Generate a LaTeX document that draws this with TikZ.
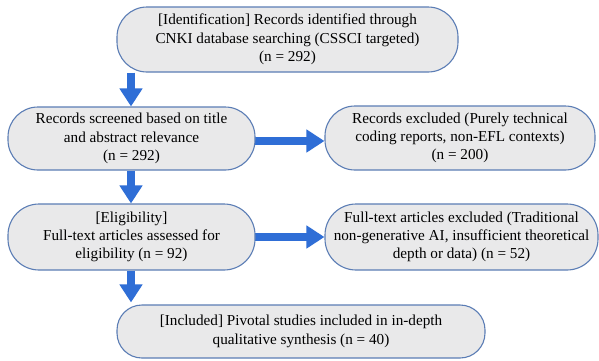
\documentclass[tikz,border=0pt]{standalone}
\usepackage{fontspec}
\setmainfont{Liberation Serif}
\usetikzlibrary{arrows.meta}
\pgfdeclarelayer{bgfill}
\pgfdeclarelayer{bg}
\pgfsetlayers{bgfill,bg,main}
\definecolor{boxfill}{HTML}{E9E9EA}
\definecolor{boxline}{HTML}{5B7DB5}
\definecolor{arrowblue}{HTML}{2F6ED6}
\tikzset{
  pill/.style={draw=boxline, line width=1.1pt, fill=boxfill, align=center,
    inner sep=0pt, font=\fontsize{15.2}{18.3}\selectfont},
  bigarrow/.style={draw=arrowblue, line width=8.5pt,
    -{Triangle[length=18pt,width=22pt,fill=arrowblue]}}
}
\begin{document}
\begin{tikzpicture}[x=1pt,y=-1pt]
\begin{pgfonlayer}{bgfill}
\fill[white] (0,0) rectangle (599,360);
\end{pgfonlayer}
\useasboundingbox (0,0) rectangle (599,360);
% coordinates for arrow alignment
\coordinate (ax) at (131,0);
\coordinate (ay1) at (0,141);
\coordinate (ay2) at (0,237);
% boxes
\node[pill, minimum width=341pt, minimum height=65pt, rounded corners=30pt] (b1) at (287.5,39.5)
  {[Identification] Records identified through\\CNKI database searching (CSSCI targeted)\\(n = 292)};
\node[pill, minimum width=247pt, minimum height=63pt, rounded corners=30pt] (b2) at (131.5,138.5)
  {Records screened based on title\\and abstract relevance\\(n = 292)};
\node[pill, minimum width=270pt, minimum height=64pt, rounded corners=30pt] (b3) at (460,138)
  {Records excluded (Purely technical\\coding reports, non-EFL contexts)\\(n = 200)};
\node[pill, minimum width=247pt, minimum height=66pt, rounded corners=31pt] (b4) at (131.5,237)
  {[Eligibility]\\Full-text articles assessed for\\eligibility (n = 92)};
\node[pill, minimum width=273pt, minimum height=66pt, rounded corners=31pt] (b5) at (461.5,237)
  {Full-text articles excluded (Traditional\\non-generative AI, insufficient theoretical\\depth or data) (n = 52)};
\node[pill, minimum width=368pt, minimum height=53pt, rounded corners=25pt] (b6) at (301,331.5)
  {[Included] Pivotal studies included in in-depth\\qualitative synthesis (n = 40)};
% arrows (drawn behind the boxes)
\begin{pgfonlayer}{bg}
\draw[bigarrow] (b1.south -| ax) -- (b2.north -| ax);
\draw[bigarrow] (b2.south -| ax) -- (b4.north -| ax);
\draw[bigarrow] (b4.south -| ax) -- ([yshift=2pt]b6.north -| ax);
\draw[bigarrow] ([xshift=-3pt]b2.east |- ay1) -- (b3.west |- ay1);
\draw[bigarrow] ([xshift=-3pt]b4.east |- ay2) -- (b5.west |- ay2);
\end{pgfonlayer}
\end{tikzpicture}
\end{document}
